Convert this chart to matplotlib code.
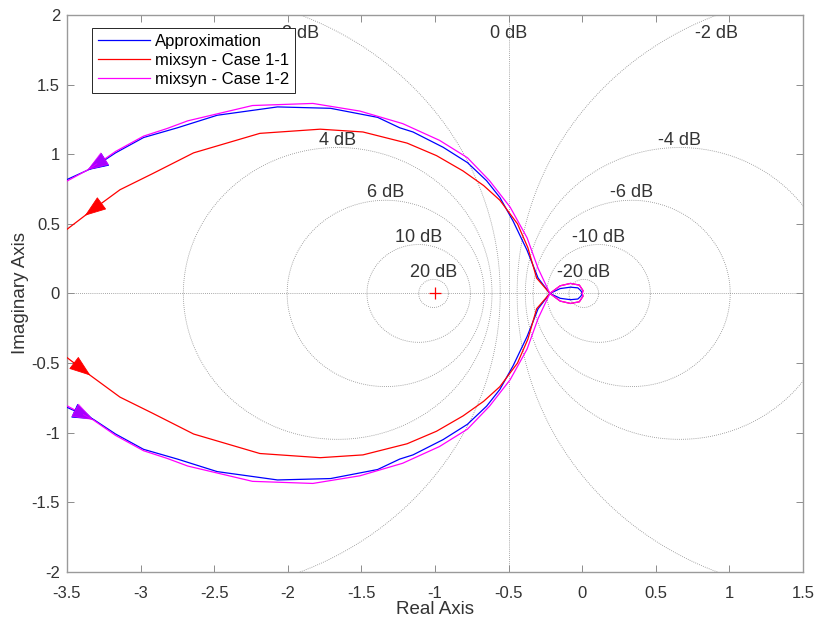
import matplotlib
matplotlib.use('Agg')
import matplotlib.pyplot as plt
import numpy as np

plt.rcParams['font.family'] = ['Liberation Sans', 'DejaVu Sans']

# positive-frequency branch of each Nyquist curve (low -> high frequency),
# the negative-frequency branch is its complex conjugate
labels = ['Approximation', 'mixsyn - Case 1-1', 'mixsyn - Case 1-2']
colors = ['#0000ff', '#ff0000', '#ff00ff']

appr_re = [-3.60, -3.32, -3.17, -2.98, -2.75, -2.48, -2.07, -1.71, -1.39, -1.24, -1.15,
           -0.945, -0.78, -0.65, -0.56, -0.47, -0.375, -0.30, -0.22,
           -0.15, -0.08, -0.03, -0.01, 0.0]
appr_im = [-0.77, -0.905, -1.01, -1.12, -1.19, -1.28, -1.34, -1.33, -1.265, -1.19, -1.16,
           -1.05, -0.94, -0.81, -0.69, -0.52, -0.31, -0.11, 0.0,
           0.035, 0.045, 0.04, 0.02, 0.0]

case11_re = [-3.60, -3.34, -3.14, -2.92, -2.64, -2.19, -1.78, -1.49, -1.19, -0.99,
             -0.81, -0.67, -0.56, -0.44, -0.37, -0.31, -0.22,
             -0.15, -0.08, -0.02, 0.005, 0.0]
case11_im = [-0.38, -0.59, -0.745, -0.86, -1.01, -1.15, -1.18, -1.16, -1.08, -0.99,
             -0.88, -0.775, -0.67, -0.50, -0.33, -0.11, 0.0,
             0.055, 0.072, 0.06, 0.02, 0.0]

case12_re = [-3.60, -3.32, -3.17, -2.98, -2.82, -2.68, -2.48, -2.24, -1.83, -1.51, -1.22,
             -0.97, -0.78, -0.63, -0.49, -0.375, -0.30, -0.22,
             -0.15, -0.08, -0.02, 0.005, 0.0]
case12_im = [-0.75, -0.91, -1.02, -1.13, -1.185, -1.24, -1.29, -1.35, -1.365, -1.31, -1.22,
             -1.10, -0.975, -0.81, -0.62, -0.40, -0.18, 0.0,
             0.055, 0.072, 0.06, 0.02, 0.0]

curves = [(appr_re, appr_im), (case11_re, case11_im), (case12_re, case12_im)]

# M-circle grid (dB)
grid_db = [-20, -10, -6, -4, -2, 0, 2, 4, 6, 10, 20]

xmin, xmax, ymin, ymax = -3.5, 1.5, -2.0, 2.0
gcol = '#8a8a8a'
tcol = '#333333'

fig = plt.figure(figsize=(8.17, 6.27), dpi=100)
ax = fig.add_axes([0.082, 0.088, 0.901, 0.888])

# grid
ax.axhline(0, color=gcol, lw=0.6, ls=(0, (1, 1.5)), zorder=1)
th = np.linspace(0, 2 * np.pi, 721)
for db in grid_db:
    if db == 0:
        ax.axvline(-0.5, color=gcol, lw=0.6, ls=(0, (1, 1.5)), zorder=1)
        lx, ly, top = -0.5, ymax, True
    else:
        m2 = 10 ** (db / 10)
        c = m2 / (1 - m2)
        r = abs(np.sqrt(m2) / (1 - m2))
        ax.plot(c + r * np.cos(th), r * np.sin(th), color=gcol, lw=0.6,
                ls=(0, (1, 1.5)), zorder=1)
        if r < ymax:
            lx, ly, top = c, r, False
        else:
            d = np.sqrt(r ** 2 - ymax ** 2)
            lx = c + d if c < -0.5 else c - d
            ly, top = ymax, True
    if top:
        ax.annotate(f'{db} dB', (lx, ly), xytext=(0, -7), textcoords='offset points',
                    ha='center', va='top', fontsize=13, color=tcol, zorder=2)
    else:
        ax.annotate(f'{db} dB', (lx, ly), xytext=(0, 2), textcoords='offset points',
                    ha='center', va='baseline', fontsize=13, color=tcol, zorder=2)

# curves
for (re, im), col, lab in zip(curves, colors, labels):
    re = np.array(re)
    im = np.array(im)
    x = np.concatenate([re, re[::-1]])
    y = np.concatenate([im, -im[::-1]])
    ax.plot(x, y, color=col, lw=0.9, label=lab, zorder=3)


def arrow(tip, prev, col, alpha):
    d = np.array(tip) - np.array(prev)
    d = d / np.hypot(*d)
    tail = np.array(tip) - 0.08 * d
    ax.annotate('', xy=tip, xytext=tail,
                arrowprops=dict(arrowstyle='-|>,head_length=1.4,head_width=0.5',
                                color=col, lw=0.6, shrinkA=0, shrinkB=0, alpha=alpha),
                zorder=4)


# direction arrows
for (re, im), col in zip(curves, colors):
    alpha = 0.65 if col == '#ff00ff' else 1.0
    # positive frequencies: lower arm, left to right
    arrow((re[1], im[1]), (re[0], im[0]), col, alpha)
    # negative frequencies: upper arm, right to left
    tx = re[1] + 0.15 * (re[0] - re[1])
    ty = -(im[1] + 0.15 * (im[0] - im[1]))
    arrow((tx, ty), (re[2], -im[2]), col, alpha)

# critical point
ax.plot([-1], [0], marker='+', color='#ff0000', ms=9, mew=0.9, zorder=4)

ax.set_xlim(xmin, xmax)
ax.set_ylim(ymin, ymax)
ax.set_xticks(np.arange(-3.5, 1.51, 0.5))
ax.set_yticks(np.arange(-2, 2.01, 0.5))
ax.set_xticklabels(['-3.5', '-3', '-2.5', '-2', '-1.5', '-1', '-0.5', '0', '0.5', '1', '1.5'])
ax.set_yticklabels(['-2', '-1.5', '-1', '-0.5', '0', '0.5', '1', '1.5', '2'])
ax.tick_params(direction='in', length=5, width=0.7, color='#8c8c8c', labelcolor=tcol,
               labelsize=12, top=True, right=True)
ax.tick_params(axis='x', pad=10)
ax.tick_params(axis='y', pad=5)
for s in ax.spines.values():
    s.set_color('#9a9a9a')
    s.set_linewidth(1.0)
ax.set_xlabel('Real Axis', fontsize=13.5, color=tcol, labelpad=0)
ax.set_ylabel('Imaginary Axis', fontsize=13.5, color=tcol, labelpad=2)

leg = ax.legend(loc='upper left', bbox_to_anchor=(0.034, 0.977), fontsize=12,
                frameon=True, fancybox=False, framealpha=1, edgecolor='#262626',
                handlelength=3.1, borderpad=0.35, labelspacing=0.25, handletextpad=0.3,
                borderaxespad=0)
leg.get_frame().set_linewidth(0.7)

fig.savefig('out.png', dpi=100)
